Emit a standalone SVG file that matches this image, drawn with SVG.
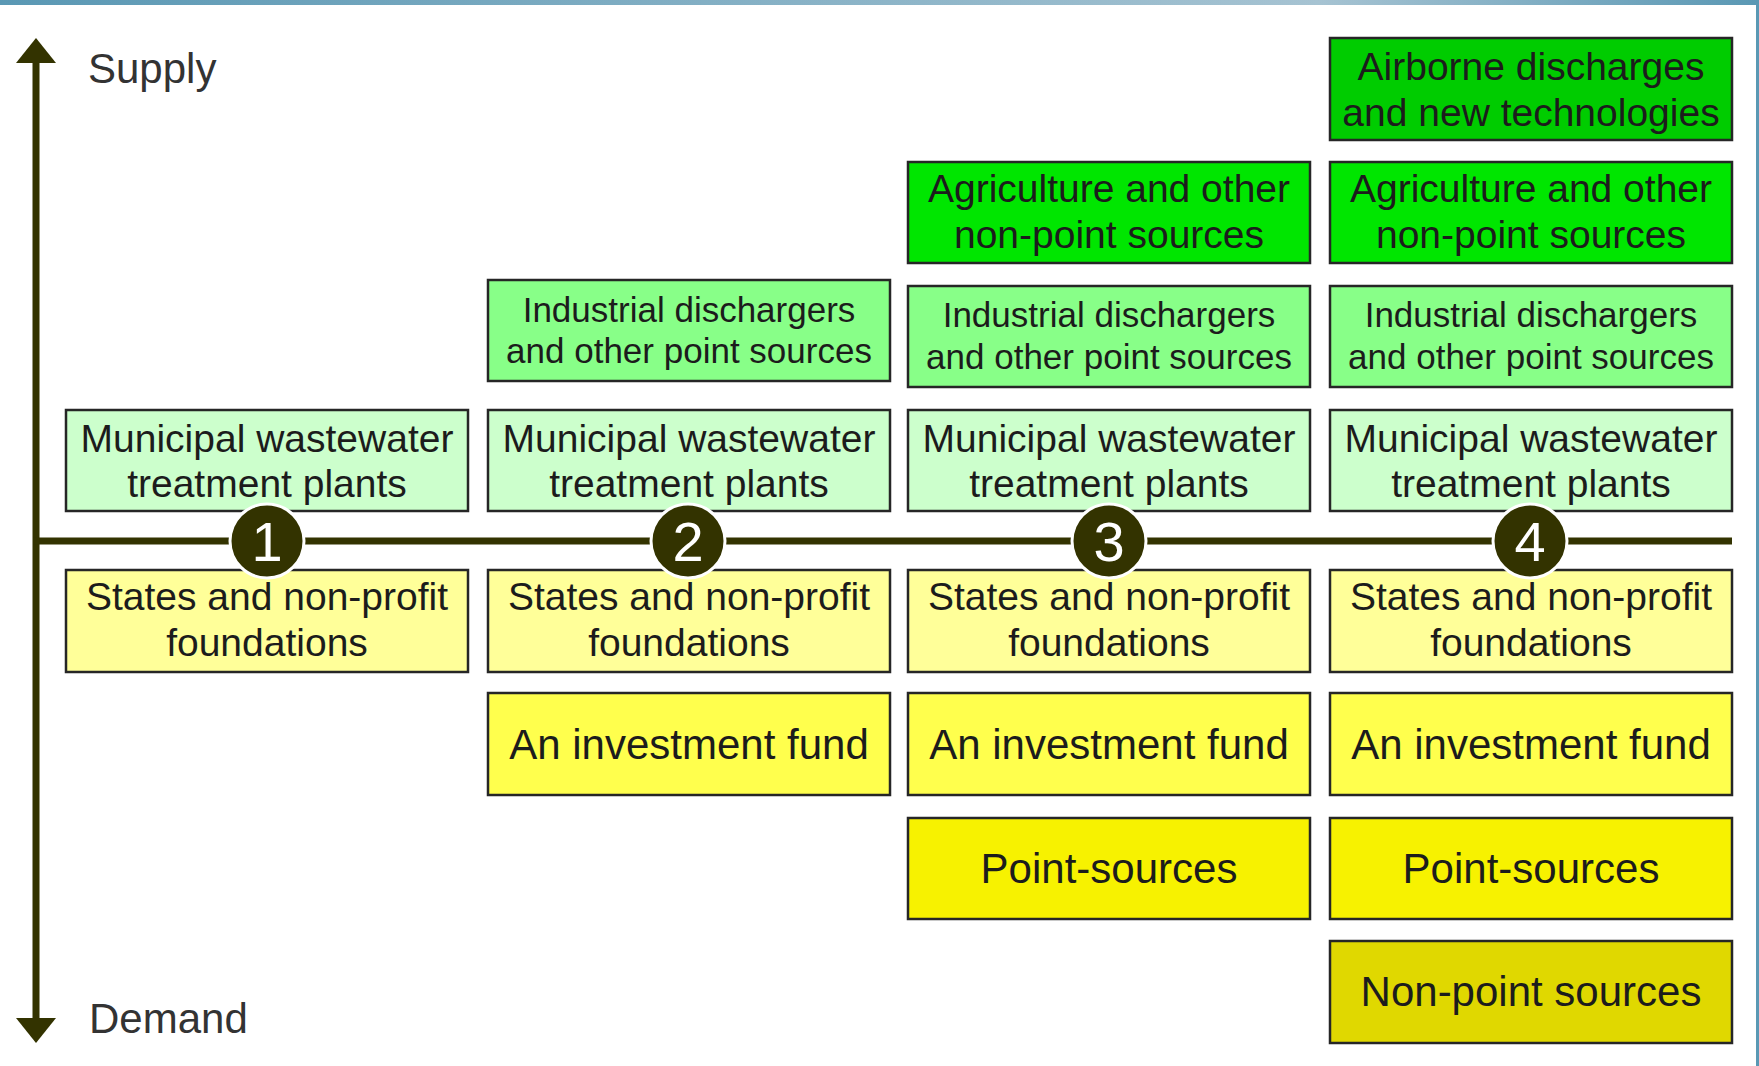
<svg xmlns="http://www.w3.org/2000/svg" width="1759" height="1066" viewBox="0 0 1759 1066">
<defs>
<linearGradient id="topbar" x1="0" y1="0" x2="1" y2="0">
<stop offset="0" stop-color="#5a98b4"/>
<stop offset="0.75" stop-color="#a6c3d2"/>
<stop offset="1" stop-color="#5a98b4"/>
</linearGradient>
<marker id="arr" viewBox="0 0 25 40" refX="0" refY="20" markerUnits="userSpaceOnUse" markerWidth="25" markerHeight="40" orient="auto">
<path d="M0,0 L25,20 L0,40 Z" fill="#333300"/>
</marker>
</defs>
<style>
.box{stroke:#262626;stroke-width:2.5}
.t{font-family:"Liberation Sans",Arial,Helvetica,sans-serif;fill:#1c1c1c;text-anchor:middle}
.s39{font-size:39px}
.s35{font-size:35px}
.s42{font-size:42px}
.ax{font-family:"Liberation Sans",Arial,Helvetica,sans-serif;font-size:42px;fill:#333333}
.num{font-family:"Liberation Sans",Arial,Helvetica,sans-serif;font-size:56px;fill:#ffffff;text-anchor:middle}
.circ{fill:#333300;stroke:#ffffff;stroke-width:3}
.air{fill:#00cc00}
.agr{fill:#00e600}
.ind{fill:#88ff88}
.mun{fill:#ccffcc}
.sta{fill:#ffff99}
.inv{fill:#ffff4d}
.pnt{fill:#f7f200}
.npt{fill:#e0d800}
</style>
<rect width="1759" height="1066" fill="#ffffff"/>
<rect x="0" y="0" width="1759" height="5" fill="url(#topbar)"/>
<rect x="1756" y="0" width="3" height="1066" fill="#5a98b4"/>

<g id="connectors" stroke="#333300" fill="none">
<line x1="36" y1="541" x2="36" y2="63" stroke-width="7" marker-end="url(#arr)"/>
<line x1="36" y1="541" x2="36" y2="1018" stroke-width="7" marker-end="url(#arr)"/>
<line x1="33" y1="541" x2="1732" y2="541" stroke-width="7"/>
</g>

<g id="label-supply"><text class="ax" x="88" y="83">Supply</text></g>
<g id="label-demand"><text class="ax" x="89" y="1033">Demand</text></g>

<!-- Column 1 -->
<g id="c1-municipal"><rect class="box mun" x="66" y="410" width="402" height="101"/>
<text class="t s39" x="267" y="452">Municipal wastewater</text><text class="t s39" x="267" y="497">treatment plants</text></g>
<g id="c1-states"><rect class="box sta" x="66" y="570" width="402" height="102"/>
<text class="t s39" x="267" y="610">States and non-profit</text><text class="t s39" x="267" y="656">foundations</text></g>

<!-- Column 2 -->
<g id="c2-industrial"><rect class="box ind" x="488" y="280" width="402" height="101"/>
<text class="t s35" x="689" y="322">Industrial dischargers</text><text class="t s35" x="689" y="363">and other point sources</text></g>
<g id="c2-municipal"><rect class="box mun" x="488" y="410" width="402" height="101"/>
<text class="t s39" x="689" y="452">Municipal wastewater</text><text class="t s39" x="689" y="497">treatment plants</text></g>
<g id="c2-states"><rect class="box sta" x="488" y="570" width="402" height="102"/>
<text class="t s39" x="689" y="610">States and non-profit</text><text class="t s39" x="689" y="656">foundations</text></g>
<g id="c2-investment"><rect class="box inv" x="488" y="693" width="402" height="102"/>
<text class="t s42" x="689" y="759">An investment fund</text></g>

<!-- Column 3 -->
<g id="c3-agriculture"><rect class="box agr" x="908" y="162" width="402" height="101"/>
<text class="t s39" x="1109" y="202">Agriculture and other</text><text class="t s39" x="1109" y="248">non-point sources</text></g>
<g id="c3-industrial"><rect class="box ind" x="908" y="286" width="402" height="101"/>
<text class="t s35" x="1109" y="327">Industrial dischargers</text><text class="t s35" x="1109" y="369">and other point sources</text></g>
<g id="c3-municipal"><rect class="box mun" x="908" y="410" width="402" height="101"/>
<text class="t s39" x="1109" y="452">Municipal wastewater</text><text class="t s39" x="1109" y="497">treatment plants</text></g>
<g id="c3-states"><rect class="box sta" x="908" y="570" width="402" height="102"/>
<text class="t s39" x="1109" y="610">States and non-profit</text><text class="t s39" x="1109" y="656">foundations</text></g>
<g id="c3-investment"><rect class="box inv" x="908" y="693" width="402" height="102"/>
<text class="t s42" x="1109" y="759">An investment fund</text></g>
<g id="c3-point"><rect class="box pnt" x="908" y="818" width="402" height="101"/>
<text class="t s42" x="1109" y="883">Point-sources</text></g>

<!-- Column 4 -->
<g id="c4-airborne"><rect class="box air" x="1330" y="38" width="402" height="102"/>
<text class="t s39" x="1531" y="80">Airborne discharges</text><text class="t s39" x="1531" y="126">and new technologies</text></g>
<g id="c4-agriculture"><rect class="box agr" x="1330" y="162" width="402" height="101"/>
<text class="t s39" x="1531" y="202">Agriculture and other</text><text class="t s39" x="1531" y="248">non-point sources</text></g>
<g id="c4-industrial"><rect class="box ind" x="1330" y="286" width="402" height="101"/>
<text class="t s35" x="1531" y="327">Industrial dischargers</text><text class="t s35" x="1531" y="369">and other point sources</text></g>
<g id="c4-municipal"><rect class="box mun" x="1330" y="410" width="402" height="101"/>
<text class="t s39" x="1531" y="452">Municipal wastewater</text><text class="t s39" x="1531" y="497">treatment plants</text></g>
<g id="c4-states"><rect class="box sta" x="1330" y="570" width="402" height="102"/>
<text class="t s39" x="1531" y="610">States and non-profit</text><text class="t s39" x="1531" y="656">foundations</text></g>
<g id="c4-investment"><rect class="box inv" x="1330" y="693" width="402" height="102"/>
<text class="t s42" x="1531" y="759">An investment fund</text></g>
<g id="c4-point"><rect class="box pnt" x="1330" y="818" width="402" height="101"/>
<text class="t s42" x="1531" y="883">Point-sources</text></g>
<g id="c4-nonpoint"><rect class="box npt" x="1330" y="941" width="402" height="102"/>
<text class="t s42" x="1531" y="1006">Non-point sources</text></g>

<!-- Stage markers -->
<g id="stage-1"><circle class="circ" cx="267" cy="541" r="37"/><text class="num" x="267" y="561">1</text></g>
<g id="stage-2"><circle class="circ" cx="688" cy="541" r="37"/><text class="num" x="688" y="561">2</text></g>
<g id="stage-3"><circle class="circ" cx="1109" cy="541" r="37"/><text class="num" x="1109" y="561">3</text></g>
<g id="stage-4"><circle class="circ" cx="1530" cy="541" r="37"/><text class="num" x="1530" y="561">4</text></g>
</svg>
